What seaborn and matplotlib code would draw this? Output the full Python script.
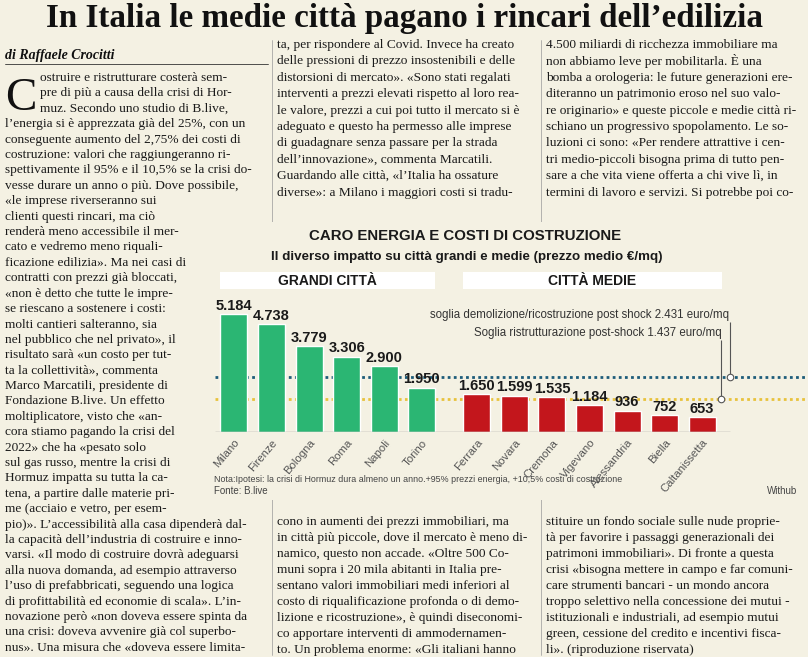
import numpy as np
import pandas as pd
import matplotlib.pyplot as plt
import seaborn as sns
from matplotlib.patches import Rectangle

sns.set_style('white')
plt.rcParams['font.family'] = ['Liberation Sans', 'DejaVu Sans']

# data
cities = ['Milano', 'Firenze', 'Bologna', 'Roma', 'Napoli', 'Torino',
          'Ferrara', 'Novara', 'Cremona', 'Vigevano', 'Alessandria', 'Biella', 'Caltanissetta']
prices = [5184, 4738, 3779, 3306, 2900, 1950, 1650, 1599, 1535, 1184, 936, 752, 653]
groups = ['grandi'] * 6 + ['medie'] * 7
labels = ['5.184', '4.738', '3.779', '3.306', '2.900', '1.950',
          '1.650', '1.599', '1.535', '1.184', '936', '752', '653']
soglia_demolizione = 2431
soglia_ristrutturazione = 1437

BG = '#f4f1e3'
W, H = 808, 657
fig = plt.figure(figsize=(W / 100, H / 100), dpi=100, facecolor=BG)

def fx(x): return x / W
def fy(y): return 1 - y / H

serif = ['Liberation Serif', 'DejaVu Serif']

# headline
fig.text(fx(404), fy(19), "In Italia le medie città pagano i rincari dell\u2019edilizia",
         ha='center', va='center', fontsize=23.8, fontweight='bold', family=serif, color='#111')

col1_top = ["ostruire e ristrutturare costerà sem-",
            "pre di più a causa della crisi di Hor-",
            "muz. Secondo uno studio di B.live,",
            "l\u2019energia si è apprezzata già del 25%, con un",
            "conseguente aumento del 2,75% dei costi di",
            "costruzione: valori che raggiungeranno ri-",
            "spettivamente il 95% e il 10,5% se la crisi do-",
            "vesse durare un anno o più. Dove possibile,",
            "«le imprese riverseranno sui",
            "clienti questi rincari, ma ciò",
            "renderà meno accessibile il mer-",
            "cato e vedremo meno riquali-",
            "ficazione edilizia». Ma nei casi di",
            "contratti con prezzi già bloccati,",
            "«non è detto che tutte le impre-",
            "se riescano a sostenere i costi:",
            "molti cantieri salteranno, sia",
            "nel pubblico che nel privato», il",
            "risultato sarà «un costo per tut-",
            "ta la collettività», commenta",
            "Marco Marcatili, presidente di",
            "Fondazione B.live. Un effetto",
            "moltiplicatore, visto che «an-",
            "cora stiamo pagando la crisi del",
            "2022» che ha «pesato solo",
            "sul gas russo, mentre la crisi di",
            "Hormuz impatta su tutta la ca-",
            "tena, a partire dalle materie pri-",
            "me (acciaio e vetro, per esem-",
            "pio)». L\u2019accessibilità alla casa dipenderà dal-",
            "la capacità dell\u2019industria di costruire e inno-",
            "varsi. «Il modo di costruire dovrà adeguarsi",
            "alla nuova domanda, ad esempio attraverso",
            "l\u2019uso di prefabbricati, seguendo una logica",
            "di profittabilità ed economie di scala». L\u2019in-",
            "novazione però «non doveva essere spinta da",
            "una crisi: doveva avvenire già col superbo-",
            "nus». Una misura che «doveva essere limita-"]
col2_top = ["ta, per rispondere al Covid. Invece ha creato",
            "delle pressioni di prezzo insostenibili e delle",
            "distorsioni di mercato». «Sono stati regalati",
            "interventi a prezzi elevati rispetto al loro rea-",
            "le valore, prezzi a cui poi tutto il mercato si è",
            "adeguato e questo ha permesso alle imprese",
            "di guadagnare senza passare per la strada",
            "dell\u2019innovazione», commenta Marcatili.",
            "Guardando alle città, «l\u2019Italia ha ossature",
            "diverse»: a Milano i maggiori costi si tradu-"]
col2_bot = ["cono in aumenti dei prezzi immobiliari, ma",
            "in città più piccole, dove il mercato è meno di-",
            "namico, questo non accade. «Oltre 500 Co-",
            "muni sopra i 20 mila abitanti in Italia pre-",
            "sentano valori immobiliari medi inferiori al",
            "costo di riqualificazione profonda o di demo-",
            "lizione e ricostruzione», è quindi diseconomi-",
            "co apportare interventi di ammodernamen-",
            "to. Un problema enorme: «Gli italiani hanno"]
col3_top = ["4.500 miliardi di ricchezza immobiliare ma",
            "non abbiamo leve per mobilitarla. È una",
            "bomba a orologeria: le future generazioni ere-",
            "diteranno un patrimonio eroso nel suo valo-",
            "re originario» e queste piccole e medie città ri-",
            "schiano un progressivo spopolamento. Le so-",
            "luzioni ci sono: «Per rendere attrattive i cen-",
            "tri medio-piccoli bisogna prima di tutto pen-",
            "sare a che vita viene offerta a chi vive lì, in",
            "termini di lavoro e servizi. Si potrebbe poi co-"]
col3_bot = ["stituire un fondo sociale sulle nude proprie-",
            "tà per favorire i passaggi generazionali dei",
            "patrimoni immobiliari». Di fronte a questa",
            "crisi «bisogna mettere in campo e far comuni-",
            "care strumenti bancari - un mondo ancora",
            "troppo selettivo nella concessione dei mutui -",
            "istituzionali e industriali, ad esempio mutui",
            "green, cessione del credito e incentivi fisca-",
            "li». (riproduzione riservata)"]

def column(lines, x, y0, step, first_x=None):
    for i, line in enumerate(lines):
        xx = first_x if (first_x is not None and i < 3) else x
        fig.text(fx(xx), fy(y0 + i * step), line, ha='left', va='center',
                 fontsize=9.6, family=serif, color='#1a1a1a')

fig.text(fx(5), fy(55), "di Raffaele Crocitti", ha='left', va='center', fontsize=10,
         fontweight='bold', style='italic', family=serif, color='#111')
fig.add_artist(plt.Line2D([fx(5), fx(268)], [fy(64), fy(64)], color='#333', lw=0.6))
fig.text(fx(5), fy(110), "C", ha='left', va='baseline', fontsize=34, family=serif, color='#111')
column(col1_top, 5, 78, 15.4, first_x=40)
column(col2_top, 277, 45, 16.4)
column(col2_bot, 277, 522, 16.0)
column(col3_top, 546, 45, 16.4)
column(col3_bot, 546, 522, 16.0)
for xs in (272, 541):
    fig.add_artist(plt.Line2D([fx(xs), fx(xs)], [fy(40), fy(655)], color='#999', lw=0.5))

# chart box
fig.add_artist(Rectangle((fx(210), fy(500)), fx(598), 278 / H, facecolor=BG,
                         edgecolor='none', zorder=2))

fig.text(fx(465), fy(236), "CARO ENERGIA E COSTI DI COSTRUZIONE", ha='center', va='center',
         fontsize=10.8, fontweight='bold', color='#1a1a1a', zorder=3)
fig.text(fx(467), fy(257), "Il diverso impatto su città grandi e medie (prezzo medio €/mq)",
         ha='center', va='center', fontsize=9.6, fontweight='bold', color='#1a1a1a', zorder=3)
for x0, x1, txt in ((220, 435, "GRANDI CITTÀ"), (463, 722, "CITTÀ MEDIE")):
    fig.add_artist(Rectangle((fx(x0), fy(289)), fx(x1 - x0), 17 / H, facecolor='white',
                             edgecolor='none', zorder=3))
    fig.text(fx((x0 + x1) / 2), fy(281), txt, ha='center', va='center', fontsize=10,
             fontweight='bold', color='#1a1a1a', zorder=4)

# axes: pixels 215..808 horizontally, baseline at 432
ax = fig.add_axes([fx(215), fy(432), fx(593), 142 / H], zorder=5)
ax.set_facecolor('none')
gap = 1.47
pos = [i if i < 6 else i - 1 + gap for i in range(len(cities))]
df = pd.DataFrame({'pos': pos, 'price': prices, 'group': groups})
sns.barplot(data=df, x='pos', y='price', hue='group', native_scale=True, width=0.72,
            palette={'grandi': '#2bb673', 'medie': '#c3161c'}, legend=False, ax=ax,
            saturation=1)
ax.set_xlim(-0.505, 15.29)
ax.set_ylim(0, 6240)
for p, v, lab in zip(pos, prices, labels):
    ax.text(p, v + 60, lab, ha='center', va='bottom', fontsize=10.5, fontweight='bold', color='#1a1a1a')
ax.axhline(soglia_demolizione, color='#1d5c7a', ls=(0, (1, 1.2)), lw=2, zorder=0)
ax.axhline(soglia_ristrutturazione, color='#e8c23c', ls=(0, (1, 1.2)), lw=2, zorder=0)
ax.hlines(0, -0.5, 13.2, color='#999', lw=1)
ax.text(13.2, 5141, "soglia demolizione/ricostruzione post shock 2.431 euro/mq", ha='right',
        va='center', fontsize=8.3, color='#333')
ax.text(12.98, 4350, "Soglia ristrutturazione post-shock 1.437 euro/mq", ha='right',
        va='center', fontsize=8.3, color='#333')
ax.vlines(13.2, soglia_demolizione + 130, 4850, color='#555', lw=0.8)
ax.vlines(12.98, soglia_ristrutturazione + 130, 4050, color='#555', lw=0.8)
ax.scatter([13.2, 12.98], [soglia_demolizione, soglia_ristrutturazione], s=22,
           facecolor='white', edgecolor='#555', lw=0.8, zorder=6)
ax.set_xticks(pos)
ax.set_xticklabels(cities, rotation=50, ha='right', rotation_mode='anchor', fontsize=8.2, color='#555')
ax.tick_params(axis='x', length=0, pad=4)
ax.set_yticks([])
ax.set_xlabel('')
ax.set_ylabel('')
sns.despine(ax=ax, left=True, bottom=True)

fig.text(fx(214), fy(480), "Nota:Ipotesi: la crisi di Hormuz dura almeno un anno.+95% prezzi energia, +10,5% costi di costruzione",
         ha='left', va='center', fontsize=6.4, color='#444', zorder=4)
fig.text(fx(214), fy(491), "Fonte: B.live", ha='left', va='center', fontsize=7, color='#444', zorder=4)
fig.text(fx(797), fy(491), "Withub", ha='right', va='center', fontsize=7, color='#444', zorder=4)

fig.savefig('out.png', dpi=100, facecolor=BG)
